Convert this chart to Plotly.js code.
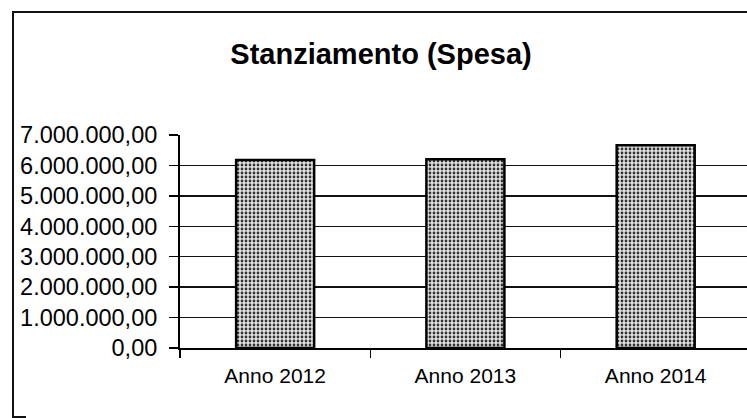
<!DOCTYPE html>
<html>
<head>
<meta charset="utf-8">
<script src="https://cdn.plot.ly/plotly-3.0.1.min.js"></script>
<style>
  html, body { margin: 0; padding: 0; background: #fff; }
  #wrap { position: relative; width: 747px; height: 418px; overflow: hidden; }
  #chart { width: 747px; height: 418px; }
  .fr { position: absolute; background: #111; pointer-events: none; }
</style>
</head>
<body>
<div id="wrap">
  <div id="chart"></div>
  <div class="fr" style="left:13px; top:11px; width:734px; height:2px;"></div>
  <div class="fr" style="left:12px; top:11px; width:2px; height:407px;"></div>
  <div class="fr" style="left:12px; top:416px; width:14px; height:2px;"></div>
</div>
<script>
const categories = ['Anno 2012', 'Anno 2013', 'Anno 2014'];
const values = [6180000, 6200000, 6660000];
const yTicks = [0, 1000000, 2000000, 3000000, 4000000, 5000000, 6000000, 7000000];
const titleText = 'Stanziamento (Spesa)';

const font = '"Liberation Sans", Arial, Helvetica, sans-serif';

const trace = {
  type: 'bar',
  x: categories,
  y: values,
  width: 0.41,
  marker: {
    color: '#cccccc',
    pattern: { shape: '.', fgcolor: '#333333', bgcolor: '#e2e2e2', size: 4, solidity: 0.38 },
    line: { color: '#000', width: 2.5 }
  },
  hoverinfo: 'x+y'
};

const layout = {
  width: 747,
  height: 418,
  margin: { l: 180, r: 0, t: 135, b: 70 },
  paper_bgcolor: '#fff',
  plot_bgcolor: '#fff',
  separators: ',.',
  showlegend: false,
  font: { family: font, color: '#000' },
  title: {
    text: titleText,
    font: { family: font, size: 29, color: '#000', weight: 'bold' },
    xref: 'container', yref: 'container',
    x: 381 / 747, xanchor: 'center',
    y: 1 - 54 / 418, yanchor: 'middle'
  },
  xaxis: {
    type: 'category',
    range: [-0.5, 2.48],
    tickson: 'boundaries',
    ticks: 'outside',
    ticklen: 8,
    tickwidth: 1.5,
    tickcolor: '#000',
    showline: true,
    linecolor: '#000',
    linewidth: 2,
    showgrid: false,
    tickfont: { family: font, size: 21, color: '#000' },
    ticklabelstandoff: 8
  },
  yaxis: {
    range: [0, 7000000],
    tickvals: yTicks,
    tickformat: ',.2f',
    ticks: 'outside',
    ticklen: 9,
    tickwidth: 1.5,
    tickcolor: '#000',
    showline: true,
    linecolor: '#000',
    linewidth: 2,
    showgrid: true,
    gridcolor: '#111',
    gridwidth: 1.4,
    zeroline: false,
    tickfont: { family: font, size: 23.5, color: '#000' },
    ticklabelstandoff: 7
  }
};

Plotly.newPlot('chart', [trace], layout, { displayModeBar: false, staticPlot: true });
</script>
</body>
</html>
